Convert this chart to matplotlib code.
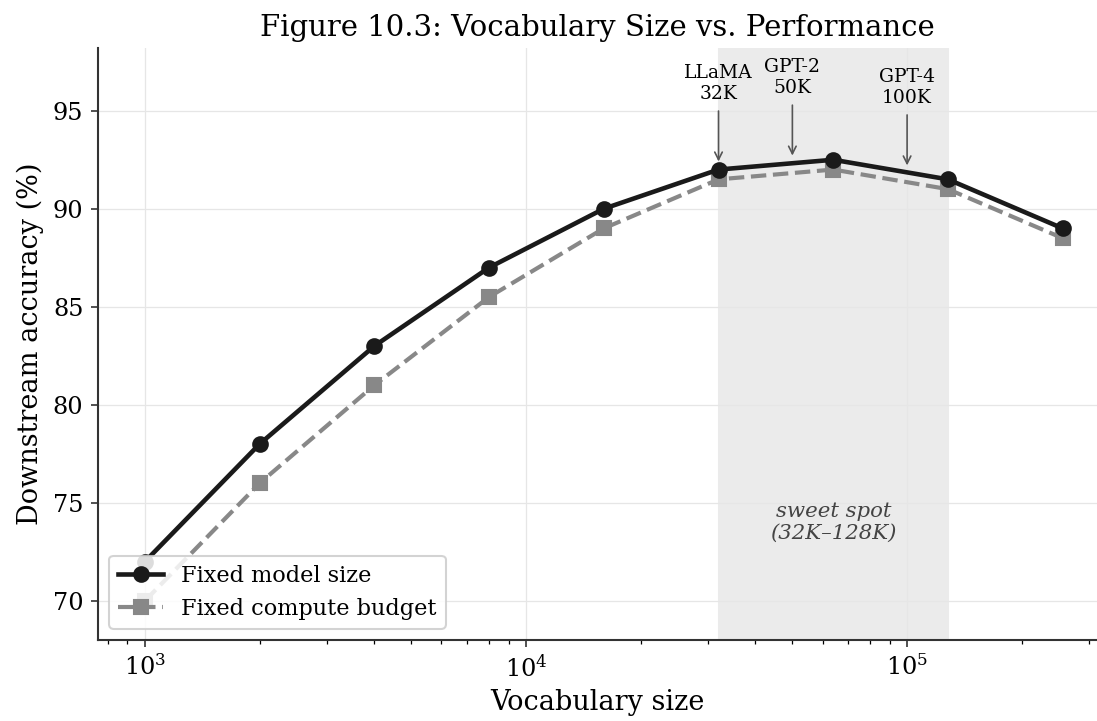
import matplotlib.pyplot as plt
import numpy as np

plt.rcParams['font.family'] = 'DejaVu Serif'

vocab = [1000, 2000, 4000, 8000, 16000, 32000, 64000, 128000, 256000]
acc_fixed_model = [72, 78, 83, 87, 90, 92, 92.5, 91.5, 89]
acc_fixed_compute = [70, 76, 81, 85.5, 89, 91.5, 92, 91, 88.5]

models = ['LLaMA\n32K', 'GPT-2\n50K', 'GPT-4\n100K']
model_vocab = [32000, 50000, 100000]
arrow_tip = [92.2, 92.5, 92.0]
label_y = [96.4, 96.7, 96.2]

fig = plt.figure(figsize=(1097 / 150, 721 / 150), dpi=150)
ax = fig.add_axes([0.0893, 0.1123, 0.9107, 0.8211])

ax.axvspan(32000, 128000, color='#ebebeb', zorder=0)

ax.plot(vocab, acc_fixed_model, color='#1a1a1a', linewidth=2.2, marker='o',
        markersize=7, label='Fixed model size', zorder=3)
ax.plot(vocab, acc_fixed_compute, color='#888888', linewidth=2, linestyle='--',
        marker='s', markersize=7, label='Fixed compute budget', zorder=2)

for name, v, tip, ty in zip(models, model_vocab, arrow_tip, label_y):
    ax.annotate(name, xy=(v, tip), xytext=(v, ty), ha='center', va='center',
                fontsize=9,
                arrowprops=dict(arrowstyle='->', color='#555555', lw=0.8))

ax.text(64000, 74.0, 'sweet spot\n(32K\u2013128K)', ha='center', va='center',
        fontsize=10.2, style='italic', color='#444444')

ax.set_xscale('log')
ax.set_xlim(753, 315000)
ax.set_ylim(68, 98.2)
ax.set_yticks([70, 75, 80, 85, 90, 95])

ax.grid(True, color='#e6e6e6', linewidth=0.6, zorder=0)
ax.set_axisbelow(True)
ax.spines['top'].set_visible(False)
ax.spines['right'].set_visible(False)
for s in ['left', 'bottom']:
    ax.spines[s].set_color('#333333')
    ax.spines[s].set_linewidth(1.0)
ax.tick_params(labelsize=11.5, color='#333333')

ax.set_xlabel('Vocabulary size', fontsize=13)
ax.set_ylabel('Downstream accuracy (%)', fontsize=13)
ax.set_title('Figure 10.3: Vocabulary Size vs. Performance', fontsize=14)

ax.legend(loc='lower left', fontsize=10.8, framealpha=0.85)

fig.savefig('out.png', dpi=150)
